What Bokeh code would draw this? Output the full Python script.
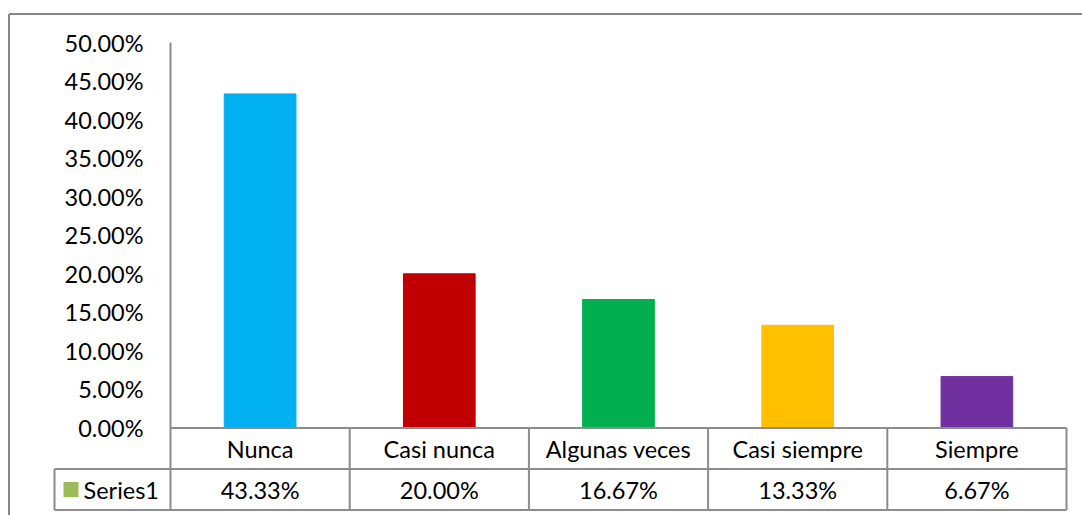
from bokeh.plotting import figure
from bokeh.models import ColumnDataSource, Range1d
from bokeh.core.properties import value
from bokeh.embed import file_html
from bokeh.resources import INLINE

# Survey answers and their share of responses (%)
categories = ["Nunca", "Casi nunca", "Algunas veces", "Casi siempre", "Siempre"]
shares = [43.33, 20.00, 16.67, 13.33, 6.67]
bar_colors = ["#00B0F0", "#C00000", "#00B050", "#FFC000", "#7030A0"]
series_name = "Series1"
y_ticks = [0, 5, 10, 15, 20, 25, 30, 35, 40, 45, 50]
y_tick_labels = ["%.2f%%" % t for t in y_ticks]

FONT = value("Lato")
FONT_SIZE = "23.5px"
GRID = "#8C8C8C"
W, H = 1082, 515

# Layout: one category slot = 1 x-unit, one percent = 1 y-unit
cell_px = 179.2          # width of one category column in pixels
pct_px = 7.71            # pixels per percentage point
x0_px, y0_px = 170.0, 427.5   # pixel position of the plot origin

p = figure(width=W, height=H, output_backend="svg", toolbar_location=None,
           min_border=0, min_border_left=0, min_border_right=0,
           min_border_top=0, min_border_bottom=0,
           x_axis_type=None, y_axis_type=None,
           x_range=Range1d(-x0_px / cell_px, (W - x0_px) / cell_px),
           y_range=Range1d(-(H - y0_px) / pct_px, y0_px / pct_px))
p.outline_line_color = None
p.grid.visible = False
p.background_fill_color = "white"
p.border_fill_color = "white"

# Bars
bars = ColumnDataSource(dict(x=[i + 0.5 for i in range(len(categories))],
                             top=shares, color=bar_colors))
p.vbar(x="x", top="top", bottom=0, width=0.4, color="color", source=bars)

# Value axis line and tick labels
p.segment(x0=[0], y0=[0], x1=[0], y1=[max(y_ticks)], line_color=GRID, line_width=2)
p.text(x=[0] * len(y_ticks), y=y_ticks, text=y_tick_labels,
       x_offset=-27, text_align="right", text_baseline="middle",
       text_font=FONT, text_font_size=FONT_SIZE, text_color="black")

# Data table under the chart
row_h = 41.0 / pct_px
r1 = -row_h          # bottom of the category row
r2 = -2 * row_h      # bottom of the series row
key_left = -(x0_px - 54) / cell_px
n = len(categories)

hx0 = [0, key_left, key_left]
hy = [0, r1, r2]
hx1 = [n, n, n]
p.segment(x0=hx0, y0=hy, x1=hx1, y1=hy, line_color=GRID, line_width=2)
vx = list(range(n + 1)) + [key_left]
vy0 = [0] * (n + 1) + [r1]
p.segment(x0=vx, y0=vy0, x1=vx, y1=[r2] * (n + 2), line_color=GRID, line_width=2)

cx = [i + 0.5 for i in range(n)]
p.text(x=cx, y=[r1 / 2] * n, text=categories, text_align="center",
       text_baseline="middle", text_font=FONT, text_font_size=FONT_SIZE,
       text_color="black")
p.text(x=cx, y=[(r1 + r2) / 2] * n, text=["%.2f%%" % v for v in shares],
       text_align="center", text_baseline="middle", text_font=FONT,
       text_font_size=FONT_SIZE, text_color="black")

# Legend key inside the table
p.rect(x=[key_left + 16.5 / cell_px], y=[(r1 + r2) / 2], width=15 / cell_px,
       height=15 / pct_px, fill_color="#9BBB59", line_color=None)
p.text(x=[key_left + 29 / cell_px], y=[(r1 + r2) / 2], text=[series_name],
       text_align="left", text_baseline="middle", text_font=FONT,
       text_font_size=FONT_SIZE, text_color="black")

# Chart area border (left and top edges)
bx = -(x0_px - 8.5) / cell_px
by = (y0_px - 13.5) / pct_px
p.segment(x0=[bx, bx], y0=[by, by], x1=[bx, W / cell_px], y1=[-H / pct_px, by],
          line_color="#878787", line_width=2)

open("out.html", "w").write(file_html(p, INLINE))
